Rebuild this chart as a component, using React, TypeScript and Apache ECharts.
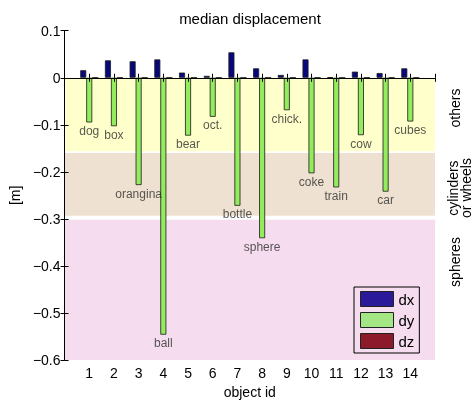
import React, { useEffect, useRef } from "react";
import * as echarts from "echarts";

const ids = [1, 2, 3, 4, 5, 6, 7, 8, 9, 10, 11, 12, 13, 14];
const names = ["dog", "box", "orangina", "ball", "bear", "oct.", "bottle", "sphere", "chick.", "coke", "train", "cow", "car", "cubes"];
const dxVals = [0.016, 0.037, 0.035, 0.039, 0.011, 0.004, 0.054, 0.02, 0.006, 0.039, 0.001, 0.013, 0.01, 0.02];
const dyVals = [-0.095, -0.103, -0.228, -0.546, -0.123, -0.083, -0.272, -0.341, -0.069, -0.203, -0.233, -0.122, -0.242, -0.093];
const dzVals = [0, 0, 0, 0, 0, 0, 0, 0, 0, 0, 0, 0, 0, 0];
const bands = [
  { from: 0, to: -0.156, color: "#ffffcc", label: ["others"] },
  { from: -0.16, to: -0.293, color: "#efe1d1", label: ["cylinders", "or wheels"] },
  { from: -0.302, to: -0.6, color: "#f5ddef", label: ["spheres"] },
];
const yTicks = { min: -0.6, max: 0.1, interval: 0.1 };
const xTicks = { min: 0, max: 15, interval: 1 };

const FONT = "'Liberation Sans', Arial, Helvetica, sans-serif";

export default function App() {
  const ref = useRef<HTMLDivElement>(null);
  useEffect(() => {
    if (!ref.current) return;
    const chart = echarts.init(ref.current, undefined, { renderer: "svg" });
    const yFmt = (v: number) => {
      const r = Math.round(v * 10) / 10;
      if (r === 0) return "0";
      return r < 0 ? "\u2212" + Math.abs(r).toFixed(1) : r.toFixed(1);
    };
    const axisLine = { show: true, lineStyle: { color: "#000", width: 1 } };
    const axisTick = { show: true, inside: true, length: 4, lineStyle: { color: "#000" } };
    const bordered = { borderColor: "#1a1a1a", borderWidth: 0.8 };
    const bandText = (text: string, x: number, y: number) => ({
      type: "text",
      x,
      y,
      rotation: Math.PI / 2,
      style: {
        text,
        font: `14px ${FONT}`,
        fill: "#000",
        align: "center",
        verticalAlign: "middle",
        textAlign: "center",
        textVerticalAlign: "middle",
      },
    });
    chart.setOption({
      animation: false,
      textStyle: { fontFamily: FONT },
      title: {
        text: "median displacement",
        left: 245,
        textAlign: "center",
        top: 6,
        textStyle: { fontFamily: FONT, fontSize: 15, fontWeight: "normal", color: "#000" },
      },
      grid: { left: 56, right: 39, top: 30.7, bottom: 37.3, containLabel: false },
      legend: {
        orient: "vertical",
        left: 354,
        top: 287,
        itemWidth: 33,
        itemHeight: 15,
        itemGap: 5,
        padding: [4, 5, 4, 6],
        borderColor: "#000",
        borderWidth: 1,
        selectedMode: false,
        icon: "rect",
        textStyle: { fontFamily: FONT, fontSize: 15, color: "#000" },
        data: [
          { name: "dx", itemStyle: { color: "#2a1a9a", borderColor: "#222", borderWidth: 1 } },
          { name: "dy", itemStyle: { color: "#a4e684", borderColor: "#222", borderWidth: 1 } },
          { name: "dz", itemStyle: { color: "#8c1a2a", borderColor: "#222", borderWidth: 1 } },
        ],
      },
      xAxis: [
        {
          type: "value",
          ...xTicks,
          position: "bottom",
          z: 10,
          axisLine,
          axisTick,
          splitLine: { show: false },
          axisLabel: {
            fontFamily: FONT,
            fontSize: 14,
            color: "#000",
            margin: 6,
            formatter: (v: number) => (v >= 1 && v <= 14 ? String(v) : ""),
          },
          name: "object id",
          nameLocation: "middle",
          nameGap: 23,
          nameTextStyle: { fontFamily: FONT, fontSize: 14, color: "#000" },
        },
        {
          type: "value",
          ...xTicks,
          position: "top",
          z: 10,
          axisLine,
          axisTick,
          splitLine: { show: false },
          axisLabel: { show: false },
        },
      ],
      yAxis: [
        {
          type: "value",
          ...yTicks,
          position: "left",
          z: 10,
          axisLine,
          axisTick,
          splitLine: { show: false },
          axisLabel: { fontFamily: FONT, fontSize: 14, color: "#000", margin: 4, formatter: yFmt },
          name: "[m]",
          nameLocation: "middle",
          nameGap: 41,
          nameTextStyle: { fontFamily: FONT, fontSize: 14, color: "#000" },
        },
        {
          type: "value",
          ...yTicks,
          position: "right",
          z: 10,
          axisLine,
          axisTick,
          splitLine: { show: false },
          axisLabel: { show: false },
        },
      ],
      series: [
        {
          name: "dx",
          type: "bar",
          xAxisIndex: 0,
          yAxisIndex: 0,
          barWidth: 6,
          barGap: "0%",
          z: 2,
          itemStyle: { color: "#08087e", ...bordered },
          data: dxVals.map((v, i) => [ids[i], v]),
          markArea: {
            silent: true,
            z: 1,
            data: bands.map((b) => [
              { xAxis: xTicks.min, yAxis: b.from, itemStyle: { color: b.color } },
              { xAxis: xTicks.max, yAxis: b.to },
            ]),
          },
        },
        {
          name: "dy",
          type: "bar",
          barWidth: 6,
          barGap: "0%",
          z: 2,
          itemStyle: { color: "#92ec5e", ...bordered },
          data: dyVals.map((v, i) => [ids[i], v]),
        },
        {
          name: "dz",
          type: "bar",
          barWidth: 6,
          barGap: "0%",
          z: 2,
          itemStyle: { color: "#8c1a2a", ...bordered },
          data: dzVals.map((v, i) => [ids[i], v]),
        },
        {
          name: "labels",
          type: "scatter",
          symbolSize: 1,
          z: 3,
          itemStyle: { color: "rgba(0,0,0,0)" },
          label: {
            show: true,
            position: "bottom",
            distance: 2,
            fontFamily: FONT,
            fontSize: 12,
            color: "#2e2e2e",
            formatter: (p: any) => names[p.dataIndex],
          },
          data: dyVals.map((v, i) => [ids[i], v]),
        },
      ],
      graphic: [
        bandText(bands[0].label[0], 455, 108),
        bandText(bands[1].label[0], 453, 188),
        bandText(bands[1].label[1], 466, 188),
        bandText(bands[2].label[0], 455, 262),
      ],
    });
    return () => chart.dispose();
  }, []);
  return <div ref={ref} style={{ position: "fixed", left: 0, top: 0, width: 474, height: 404 }} />;
}
